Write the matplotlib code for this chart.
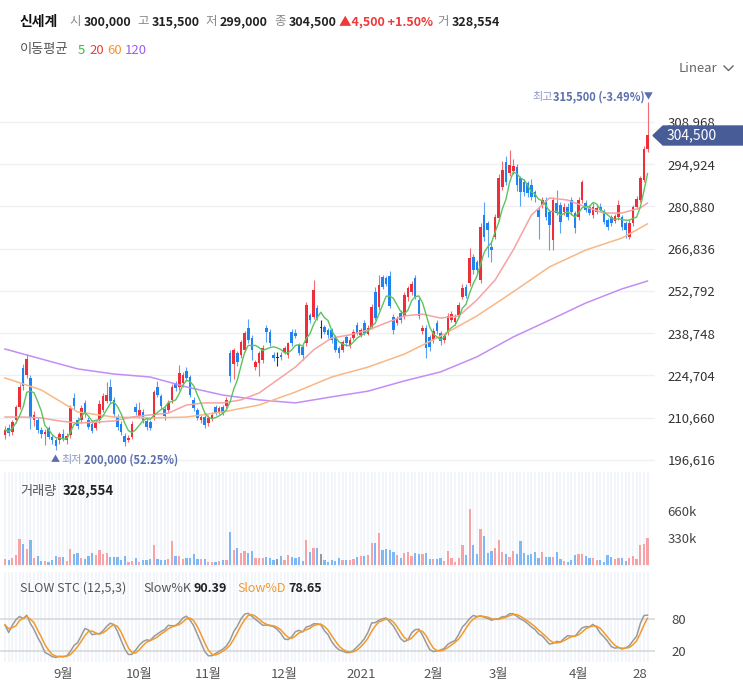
"""
Daily candle chart of 신세계 (Aug 2020 - Apr 2021) with moving averages,
volume and slow stochastic panels. Values read off the reference picture,
prices in thousand won, volume in thousand shares.
"""
import numpy as np
import pandas as pd
import matplotlib
matplotlib.use("Agg")
import matplotlib.pyplot as plt
from matplotlib.patches import Polygon
from matplotlib.lines import Line2D

plt.rcParams['font.family'] = ['Noto Sans CJK KR', 'DejaVu Sans']

# ------------------- data -------------------
opens = [
    204.9, 207.3, 205.9, 209.9, 214.2, 227.2, 224.9, 223.9, 209.9, 209.9,
    206.6, 205.3, 207.3, 204.3, 203.3, 203.3, 205.3, 203.3, 204.9, 217.2,
    209.9, 209.9, 215.6, 209.9, 208.6, 207.3, 209.9, 213.2, 216.2, 220.9,
    216.6, 211.0, 208.6, 204.6, 203.3, 204.3, 214.2, 211.2, 212.6, 209.6,
    209.2, 210.9, 220.9, 217.9, 213.6, 213.2, 216.6, 222.2, 220.9, 222.2,
    226.2, 224.2, 216.6, 213.2, 209.9, 210.9, 208.9, 210.6, 214.2, 212.6,
    214.2, 214.6, 232.2, 228.5, 232.2, 231.5, 233.2, 240.5, 237.2, 227.5,
    228.9, 229.9, 240.5, 239.2, 231.5, 230.5, 231.5, 232.5, 231.5, 239.2,
    238.8, 234.8, 234.2, 235.5, 244.8, 244.2, 247.1, 240.5, 240.8, 239.8,
    239.8, 237.2, 233.8, 233.2, 237.5, 234.5, 237.2, 241.5, 238.2, 242.2,
    238.5, 240.8, 252.5, 247.5, 257.4, 257.1, 257.8, 244.2, 242.2, 245.5,
    244.5, 250.8, 252.5, 257.1, 249.8, 239.5, 240.5, 237.5, 236.5, 242.2,
    238.8, 236.5, 238.8, 243.2, 242.5, 244.8, 250.8, 254.1, 255.4, 264.1,
    262.4, 256.4, 278.0, 275.4, 267.4, 270.7, 277.1, 287.4, 295.6, 292.0,
    292.6, 294.0, 290.3, 289.0, 288.7, 288.0, 285.7, 279.7, 281.4, 283.0,
    279.1, 269.7, 282.0, 281.4, 279.1, 280.7, 283.0, 278.7, 277.4, 283.0,
    282.0, 280.7, 278.1, 279.1, 280.7, 279.1, 276.4, 277.4, 276.1, 277.4,
    277.4, 275.4, 270.7, 275.4, 280.7, 283.0, 289.7, 300.0,
]
highs = [
    208.0, 208.5, 210.0, 215.0, 222.0, 228.5, 231.8, 225.0, 213.0, 211.0,
    207.5, 207.0, 208.0, 205.0, 204.0, 206.0, 207.0, 205.5, 215.0, 218.8,
    211.0, 215.0, 216.5, 211.0, 209.5, 210.0, 216.5, 219.0, 222.5, 223.5,
    217.5, 212.0, 209.5, 205.5, 205.0, 209.5, 215.5, 216.0, 213.5, 210.5,
    210.0, 220.0, 223.0, 218.5, 214.5, 216.5, 222.0, 223.0, 228.2, 226.0,
    227.5, 225.0, 217.5, 214.0, 211.5, 211.5, 211.5, 212.5, 215.0, 214.5,
    215.0, 217.5, 233.2, 234.0, 233.0, 236.5, 239.5, 243.5, 238.0, 230.0,
    233.0, 235.0, 241.5, 240.0, 232.5, 232.5, 232.5, 234.5, 236.0, 240.0,
    240.0, 235.5, 235.0, 249.0, 245.5, 256.4, 248.0, 243.0, 241.5, 240.5,
    240.5, 238.0, 234.5, 236.5, 238.2, 237.5, 240.0, 242.5, 240.5, 243.0,
    241.5, 248.5, 254.0, 258.1, 258.0, 257.8, 259.4, 245.0, 244.5, 246.5,
    252.5, 254.5, 256.0, 258.1, 250.5, 241.5, 241.5, 238.2, 240.5, 243.0,
    239.5, 238.5, 245.5, 246.0, 245.0, 249.0, 255.0, 255.0, 267.0, 265.0,
    263.0, 275.5, 282.4, 276.0, 269.5, 278.5, 291.5, 296.0, 297.5, 299.7,
    296.5, 295.0, 291.0, 290.0, 289.5, 290.0, 286.5, 281.0, 284.0, 284.0,
    280.0, 284.0, 286.4, 282.5, 282.0, 282.0, 284.0, 279.5, 284.0, 289.7,
    283.0, 281.5, 282.0, 281.5, 282.0, 280.0, 277.0, 278.0, 278.5, 283.0,
    278.0, 276.0, 276.5, 281.5, 284.5, 291.0, 301.0, 315.5,
]
lows = [
    203.5, 204.5, 205.0, 209.0, 213.5, 220.0, 224.0, 207.0, 208.0, 205.5,
    204.0, 201.5, 203.5, 202.0, 200.0, 202.0, 203.0, 202.0, 204.0, 213.5,
    207.0, 209.0, 211.0, 207.0, 205.5, 206.5, 209.0, 212.5, 215.5, 215.5,
    211.0, 206.5, 205.0, 201.3, 202.5, 203.5, 211.5, 210.5, 209.0, 206.5,
    206.5, 210.0, 217.5, 213.5, 210.0, 212.5, 215.5, 219.5, 220.0, 221.0,
    223.0, 217.5, 213.0, 210.0, 209.0, 207.2, 208.0, 209.5, 211.5, 212.0,
    211.5, 214.0, 222.5, 223.5, 228.0, 230.5, 232.5, 235.5, 229.9, 226.5,
    224.5, 229.0, 236.0, 234.5, 229.5, 228.0, 230.0, 232.0, 230.5, 234.5,
    237.0, 231.5, 230.0, 234.5, 242.0, 243.5, 243.0, 237.0, 238.5, 237.0,
    235.5, 232.5, 230.5, 232.5, 234.5, 234.0, 236.5, 238.0, 237.5, 238.0,
    238.0, 240.0, 243.0, 246.5, 253.5, 254.5, 247.0, 238.5, 241.5, 242.0,
    243.5, 249.5, 251.5, 250.0, 243.5, 238.5, 230.5, 233.0, 235.5, 238.5,
    235.0, 235.5, 238.0, 242.5, 241.5, 244.0, 250.0, 250.5, 254.5, 258.5,
    258.5, 255.5, 269.5, 264.0, 262.5, 270.0, 276.0, 286.5, 288.0, 291.0,
    291.5, 286.0, 281.0, 284.5, 284.0, 283.0, 282.5, 270.0, 280.5, 276.5,
    266.4, 266.4, 278.0, 272.0, 278.0, 276.5, 278.0, 272.0, 276.5, 282.0,
    279.0, 278.0, 277.0, 278.5, 279.0, 275.0, 273.0, 274.5, 275.5, 276.5,
    273.0, 270.4, 270.0, 274.5, 280.0, 282.5, 289.0, 299.0,
]
closes = [
    206.6, 205.6, 209.2, 214.2, 220.9, 221.2, 230.2, 210.9, 211.6, 206.6,
    205.3, 205.9, 204.3, 203.3, 201.3, 205.3, 203.9, 204.6, 213.9, 214.6,
    207.9, 213.9, 211.9, 207.6, 206.3, 209.2, 215.2, 217.9, 218.2, 216.2,
    211.9, 207.6, 205.9, 202.6, 203.9, 208.6, 212.6, 213.2, 209.9, 207.6,
    207.3, 219.2, 218.2, 214.6, 211.2, 215.6, 220.9, 220.5, 225.5, 224.9,
    223.9, 218.2, 213.9, 210.6, 210.9, 208.2, 210.6, 211.6, 212.2, 213.9,
    212.2, 216.6, 224.6, 233.2, 229.2, 235.8, 238.8, 236.5, 233.2, 229.2,
    232.2, 233.8, 239.2, 235.5, 230.5, 230.5, 230.9, 233.8, 235.5, 235.5,
    237.8, 232.2, 231.5, 248.1, 243.2, 253.1, 243.8, 240.5, 239.2, 238.2,
    236.5, 233.2, 232.2, 235.8, 235.5, 236.5, 239.2, 238.8, 239.8, 238.8,
    240.5, 247.5, 243.8, 254.8, 254.1, 255.1, 247.8, 239.8, 243.8, 243.2,
    251.5, 253.8, 255.1, 250.8, 244.5, 240.5, 233.8, 234.2, 239.5, 239.5,
    236.2, 237.8, 244.5, 245.1, 243.8, 248.1, 253.8, 251.1, 263.7, 259.8,
    259.8, 274.0, 270.7, 273.1, 266.4, 277.4, 290.3, 293.0, 289.0, 294.6,
    294.4, 288.0, 285.7, 285.7, 285.4, 284.0, 284.0, 277.4, 283.0, 277.4,
    274.7, 283.0, 278.7, 275.7, 280.7, 277.4, 279.1, 273.7, 283.0, 289.0,
    279.7, 278.7, 280.7, 280.4, 279.7, 275.7, 274.0, 275.4, 277.7, 281.4,
    274.0, 273.1, 275.4, 280.7, 283.5, 290.3, 300.0, 304.5,
]
volumes = [
    70, 60, 90, 120, 320, 260, 200, 300, 85, 110,
    45, 45, 35, 60, 110, 95, 95, 45, 195, 135,
    145, 85, 75, 115, 145, 120, 185, 140, 145, 95,
    100, 95, 65, 110, 40, 55, 85, 35, 65, 60,
    70, 250, 70, 60, 60, 70, 290, 115, 115, 70,
    85, 90, 135, 70, 70, 70, 35, 35, 35, 45,
    60, 65, 400, 180, 210, 145, 170, 150, 170, 85,
    85, 90, 100, 85, 60, 70, 105, 60, 125, 100,
    90, 100, 55, 300, 155, 210, 210, 140, 60, 40,
    60, 55, 90, 65, 60, 60, 70, 100, 105, 105,
    125, 270, 270, 390, 180, 190, 180, 160, 120, 90,
    150, 160, 110, 150, 140, 140, 145, 70, 70, 70,
    80, 45, 170, 85, 40, 90, 240, 120, 680, 240,
    140, 440, 350, 145, 175, 210, 305, 160, 130, 95,
    175, 140, 295, 150, 120, 130, 160, 80, 160, 100,
    100, 100, 160, 75, 55, 40, 65, 125, 130, 135,
    115, 90, 85, 65, 60, 40, 120, 100, 70, 80,
    80, 55, 80, 105, 75, 250, 255, 328.554,
]

# longer moving averages at fixed day indices
ma20_idx = list(range(0, 176, 5)) + [177]
ma20_val = [210.9, 210.9, 210.6, 209.6, 208.9, 209.2, 209.6, 210.9, 211.6, 212.2,
            214.9, 215.6, 215.6, 216.6, 218.9, 223.2, 227.5, 233.2, 237.2, 238.2,
            239.8, 242.2, 244.5, 245.1, 243.8, 244.5, 249.8, 256.4, 266.4, 278.0,
            283.7, 283.0, 280.7, 278.7, 278.7, 280.4, 282.0]
ma_long_idx = list(range(0, 171, 10)) + [177]
ma60_val = [223.9, 219.9, 212.6, 210.9, 210.6, 210.9, 212.6, 214.9, 219.2, 224.2,
            227.5, 231.8, 237.8, 244.5, 252.5, 260.8, 266.4, 270.4, 275.1]
ma120_val = [233.5, 230.2, 226.9, 225.2, 224.2, 220.9, 218.2, 216.6, 215.6, 217.6,
             219.5, 222.9, 225.9, 230.9, 237.5, 243.1, 248.8, 253.5, 256.1]

price_ticks = [196.616, 210.660, 224.704, 238.748, 252.792, 266.836, 280.880,
               294.924, 308.968]
price_tick_labels = ["196,616", "210,660", "224,704", "238,748", "252,792",
                     "266,836", "280,880", "294,924", "308,968"]
month_idx = [16, 37, 56, 77, 98, 118, 136, 158, 177]
month_labels = ["9월", "10월", "11월", "12월", "2021", "2월", "3월", "4월", "28"]

# ------------------- style -------------------
RED, BLUE = "#ee2e3a", "#2183f0"
RED_WICK, BLUE_WICK = "#f36a72", "#5aa2f2"
VOL_RED, VOL_BLUE = "#f5a3a7", "#80b8f5"
MA_COLORS = {"5": "#5cc45c", "20": "#f7a3a3", "60": "#f9b784", "120": "#c38df7"}
TAG_BLUE = "#5b6fae"
W, H = 743, 680


def fx(px):
    return px / W


def fy(py):
    return 1 - py / H


def ftext(fig, x, y, s, **kw):
    kw.setdefault("va", "center")
    kw.setdefault("ha", "left")
    fig.text(fx(x), fy(y), s, **kw)


def clean(ax):
    for sp in ax.spines.values():
        sp.set_visible(False)
    ax.tick_params(length=0)


# ------------------- figure -------------------
fig = plt.figure(figsize=(W / 100, H / 100), dpi=100)
ax_p = fig.add_axes([0, fy(470), fx(655), (470 - 80) / H])
ax_v = fig.add_axes([0, fy(567), fx(655), (567 - 472) / H], sharex=ax_p)
ax_s = fig.add_axes([0, fy(662), fx(655), (662 - 572) / H], sharex=ax_p)

o = np.array(opens)
hi = np.array(highs)
lo = np.array(lows)
c = np.array(closes)
n = len(c)
x = np.arange(n)

up = c > o
down = c < o
body_col = np.where(up, RED, np.where(down, BLUE, "#333333"))
wick_col = np.where(up, RED_WICK, np.where(down, BLUE_WICK, "#333333"))

# price panel
ax_p.vlines(x, lo, hi, colors=wick_col, lw=0.8, zorder=2)
ax_p.bar(x, np.maximum(np.abs(c - o), 0.35), bottom=np.minimum(o, c),
         width=0.72, color=body_col, zorder=2)

ma5 = pd.Series(c).rolling(5, min_periods=1).mean()
ax_p.plot(ma_long_idx, ma120_val, color=MA_COLORS["120"], lw=1.1, zorder=3)
ax_p.plot(ma_long_idx, ma60_val, color=MA_COLORS["60"], lw=1.1, zorder=3)
ax_p.plot(ma20_idx, ma20_val, color=MA_COLORS["20"], lw=1.1, zorder=3)
ax_p.plot(x, ma5, color=MA_COLORS["5"], lw=1.0, zorder=3)

ax_p.set_xlim(-5 / 3.63, (655 - 5) / 3.63)
ax_p.set_ylim(193.3, 322.9)
ax_p.set_yticks(price_ticks)
ax_p.set_yticklabels(price_tick_labels)
ax_p.yaxis.tick_right()
ax_p.tick_params(axis="y", pad=9, labelsize=9.5, labelcolor="#333333")
ax_p.tick_params(axis="x", labelbottom=False)
ax_p.grid(axis="y", color="#eef0f4", lw=1)
ax_p.set_axisbelow(True)
clean(ax_p)

# volume panel
vol_col = np.where(up, VOL_RED, np.where(down, VOL_BLUE, "#999999"))
ax_v.vlines(x, -30, 1200, colors="#f1f4f9", lw=1.3, zorder=0)
ax_v.bar(x, volumes, width=0.62, color=vol_col, zorder=2)
ax_v.set_ylim(-24.4, 1136.7)
ax_v.set_yticks([330, 660])
ax_v.set_yticklabels(["330k", "660k"])
ax_v.yaxis.tick_right()
ax_v.tick_params(axis="y", pad=9, labelsize=9.5, labelcolor="#444444")
ax_v.tick_params(axis="x", labelbottom=False)
clean(ax_v)

# slow stochastic (12,5,3)
hh = pd.Series(hi).rolling(12, min_periods=1).max()
ll = pd.Series(lo).rolling(12, min_periods=1).min()
num = (pd.Series(c) - ll).rolling(5, min_periods=1).sum()
den = (hh - ll).rolling(5, min_periods=1).sum()
slow_k = 100 * num / den
slow_d = slow_k.rolling(3, min_periods=1).mean()

ax_s.vlines(x, -10, 200, colors="#f1f4f9", lw=1.3, zorder=0)
ax_s.axhline(80, color="#d6d6d6", lw=1.1, zorder=1)
ax_s.axhline(20, color="#d6d6d6", lw=1.1, zorder=1)
ax_s.plot(x, slow_k, color="#9a9a9a", lw=1.1, zorder=3)
ax_s.plot(x, slow_d, color="#f39a2c", lw=1.1, zorder=3)
ax_s.set_ylim(-0.6, 168.1)
ax_s.set_yticks([20, 80])
ax_s.set_yticklabels(["20", "80"])
ax_s.yaxis.tick_right()
ax_s.tick_params(axis="y", pad=12, labelsize=9.5, labelcolor="#444444")
ax_s.set_xticks(month_idx)
ax_s.set_xticklabels(month_labels)
ax_s.tick_params(axis="x", pad=4, labelsize=9.5, labelcolor="#555555")
ax_s.get_xticklabels()[-1].set_horizontalalignment("right")
clean(ax_s)

# ------------------- header texts -------------------
GRAY, DARK = "#8a8a8a", "#222222"
ftext(fig, 20, 22, "신세계", fontsize=10, weight="bold", color="#111111")
for lab, lx, val, vx in [("시", 69, "300,000", 84), ("고", 137, "315,500", 152),
                         ("저", 205, "299,000", 220), ("종", 274, "304,500", 289)]:
    ftext(fig, lx, 22, lab, fontsize=9, color=GRAY)
    ftext(fig, vx, 22, val, fontsize=9, weight="bold", color=DARK)
ftext(fig, 339, 22, "▲4,500 +1.50%", fontsize=9, weight="bold", color="#ee3a3a")
ftext(fig, 437, 22, "거", fontsize=9, color=GRAY)
ftext(fig, 452, 22, "328,554", fontsize=9, weight="bold", color=DARK)

ftext(fig, 20, 50, "이동평균", fontsize=9.5, color="#555555")
for s, px, col in [("5", 78, "#3cb93c"), ("20", 89, "#f03c3c"),
                   ("60", 107, "#f7932f"), ("120", 125, "#a05cf0")]:
    ftext(fig, px, 50, s, fontsize=9.5, color=col)

ftext(fig, 679, 68, "Linear", fontsize=9.5, color="#666666")
fig.add_artist(Line2D([fx(724), fx(728.5), fx(733)], [fy(66), fy(70.5), fy(66)],
                      color="#666666", lw=1.0))

# high / low tags
ftext(fig, 532, 97, "최고", fontsize=8, color="#8d9ac4")
ftext(fig, 553, 97, "315,500 (-3.49%)", fontsize=8, weight="bold", color=TAG_BLUE)
ftext(fig, 648, 97, "▼", fontsize=6.5, color=TAG_BLUE, ha="center")
ftext(fig, 55, 460, "▲", fontsize=6.5, color=TAG_BLUE, ha="center")
ftext(fig, 61, 460, "최저", fontsize=8, color="#8d9ac4")
ftext(fig, 84, 460, "200,000 (52.25%)", fontsize=8, weight="bold", color=TAG_BLUE)

# last price tag
tag = Polygon([(fx(653), fy(135.5)), (fx(663), fy(126)), (fx(743), fy(126)),
               (fx(743), fy(145)), (fx(663), fy(145))],
              closed=True, transform=fig.transFigure, color="#485c98", zorder=5)
fig.add_artist(tag)
fig.text(fx(667), fy(135.5), "304,500", fontsize=10, color="white",
         va="center", ha="left", zorder=6)

# panel headers
ftext(fig, 20, 491, "거래량", fontsize=9.5, color="#555555")
ftext(fig, 63, 491, "328,554", fontsize=9.5, weight="bold", color=DARK)
ftext(fig, 20, 588, "SLOW STC (12,5,3)", fontsize=9, color="#555555")
ftext(fig, 143, 588, "Slow%K", fontsize=9, color="#555555")
ftext(fig, 194, 588, "90.39", fontsize=9, weight="bold", color=DARK)
ftext(fig, 237, 588, "Slow%D", fontsize=9, color="#f39a2c")
ftext(fig, 288, 588, "78.65", fontsize=9, weight="bold", color=DARK)

fig.savefig("out.png", dpi=100)
